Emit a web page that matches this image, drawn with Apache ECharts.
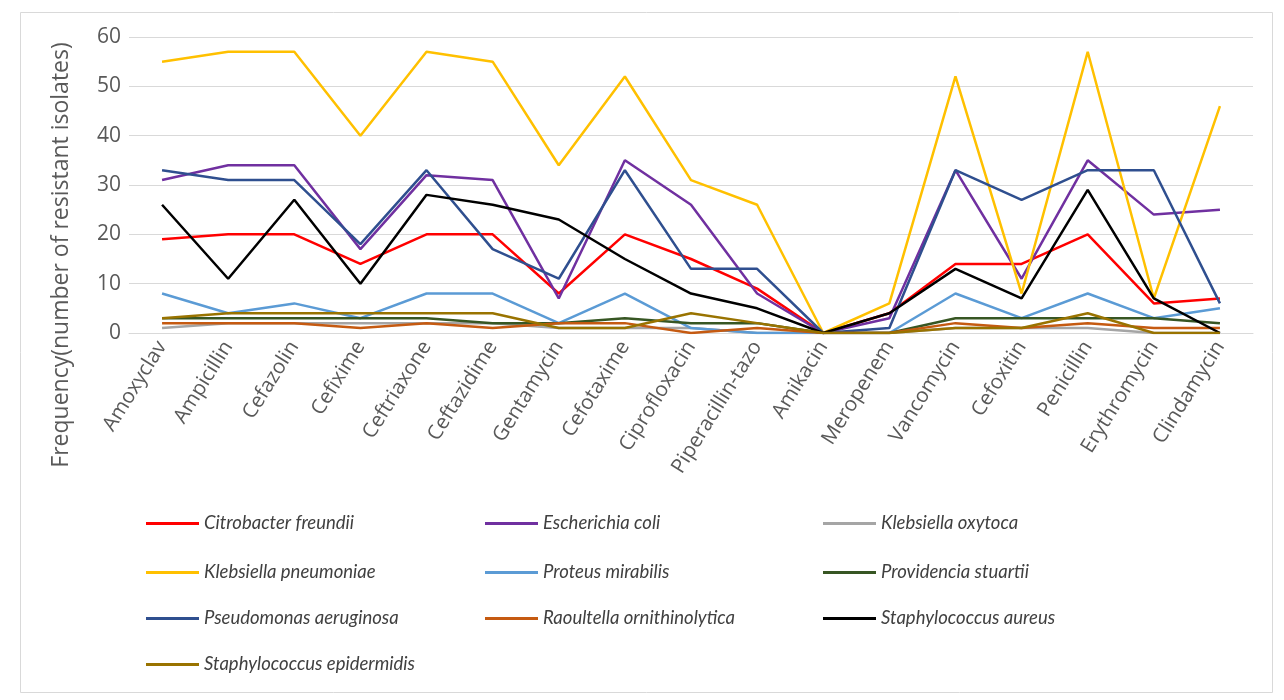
<!DOCTYPE html>
<html>
<head>
<meta charset="utf-8">
<script src="https://cdn.jsdelivr.net/npm/echarts@6/dist/echarts.min.js"></script>
<style>
html,body{margin:0;padding:0;background:#fff;}
#chart{width:1284px;height:700px;}
</style>
</head>
<body>
<div id="chart"></div>
<script>
const categories = ["Amoxyclav","Ampicillin","Cefazolin","Cefixime","Ceftriaxone","Ceftazidime","Gentamycin","Cefotaxime","Ciprofloxacin","Piperacillin-tazo","Amikacin","Meropenem","Vancomycin","Cefoxitin","Penicillin","Erythromycin","Clindamycin"];
const yTicks = [0,10,20,30,40,50,60];

const citrobacterFreundii      = [19,20,20,14,20,20,8,20,15,9,0,4,14,14,20,6,7];
const escherichiaColi          = [31,34,34,17,32,31,7,35,26,8,0,3,33,11,35,24,25];
const klebsiellaOxytoca        = [1,2,2,2,2,2,1,1,1,0,0,0,1,1,1,0,0];
const klebsiellaPneumoniae     = [55,57,57,40,57,55,34,52,31,26,0,6,52,8,57,7,46];
const proteusMirabilis         = [8,4,6,3,8,8,2,8,1,0,0,0,8,3,8,3,5];
const providenciaStuartii      = [3,3,3,3,3,2,2,3,2,2,0,0,3,3,3,3,2];
const pseudomonasAeruginosa    = [33,31,31,18,33,17,11,33,13,13,0,1,33,27,33,33,6];
const raoultellaOrnithinolytica= [2,2,2,1,2,1,2,2,0,1,0,0,2,1,2,1,1];
const staphylococcusAureus     = [26,11,27,10,28,26,23,15,8,5,0,4,13,7,29,7,0];
const staphylococcusEpidermidis= [3,4,4,4,4,4,1,1,4,2,0,0,1,1,4,0,0];

const seriesDefs = [
  {name:"Citrobacter freundii", data:citrobacterFreundii, color:"#FF0000"},
  {name:"Escherichia coli", data:escherichiaColi, color:"#7030A0"},
  {name:"Klebsiella oxytoca", data:klebsiellaOxytoca, color:"#A5A5A5"},
  {name:"Klebsiella pneumoniae", data:klebsiellaPneumoniae, color:"#FFC000"},
  {name:"Proteus mirabilis", data:proteusMirabilis, color:"#5B9BD5"},
  {name:"Providencia stuartii", data:providenciaStuartii, color:"#375623"},
  {name:"Pseudomonas aeruginosa", data:pseudomonasAeruginosa, color:"#2F4F8F"},
  {name:"Raoultella ornithinolytica", data:raoultellaOrnithinolytica, color:"#C55A11"},
  {name:"Staphylococcus aureus", data:staphylococcusAureus, color:"#000000"},
  {name:"Staphylococcus epidermidis", data:staphylococcusEpidermidis, color:"#997300"}
];

const colX = [146, 485, 823];
const rowY = [514, 563, 609, 655];
const legends = seriesDefs.map((s,i)=>({
  data:[s.name],
  left: colX[i%3],
  top: rowY[Math.floor(i/3)],
  icon:'rect',
  itemWidth:53,
  itemHeight:3,
  itemGap:6,
  padding:0,
  selectedMode:false,
  textStyle:{fontFamily:'Lato',fontStyle:'italic',fontSize:18.5,color:'#404040',padding:[0,0,0,0]}
}));

const chart = echarts.init(document.getElementById('chart'));
chart.setOption({
  animation:false,
  backgroundColor:'#fff',
  grid:{left:129,right:31,top:37,bottom:367,containLabel:false},
  legend:legends,
  graphic:[
    {type:'rect',left:18,top:10,shape:{width:1252,height:680},style:{fill:'none',stroke:'#D9D9D9',lineWidth:1},z:-1},
    {type:'text',x:61,y:255,rotation:Math.PI/2,style:{text:'Frequency(number of resistant isolates)',fontFamily:'Open Sans',fontSize:23,fill:'#595959',align:'center',verticalAlign:'middle'}}
  ],
  xAxis:{
    type:'category',data:categories,boundaryGap:true,
    axisLine:{lineStyle:{color:'#D9D9D9',width:1}},
    axisTick:{show:false},
    axisLabel:{interval:0,rotate:58,fontFamily:'Open Sans',fontSize:20.5,color:'#595959',margin:10}
  },
  yAxis:{
    type:'value',min:yTicks[0],max:yTicks[yTicks.length-1],interval:10,
    axisLine:{show:false},axisTick:{show:false},
    splitLine:{lineStyle:{color:'#D9D9D9',width:1}},
    axisLabel:{fontFamily:'Open Sans',fontSize:21,color:'#595959',margin:8}
  },
  series:seriesDefs.map(s=>({
    name:s.name,type:'line',data:s.data,symbol:'none',showSymbol:false,
    lineStyle:{color:s.color,width:2.5},itemStyle:{color:s.color}
  }))
});
</script>
</body>
</html>
